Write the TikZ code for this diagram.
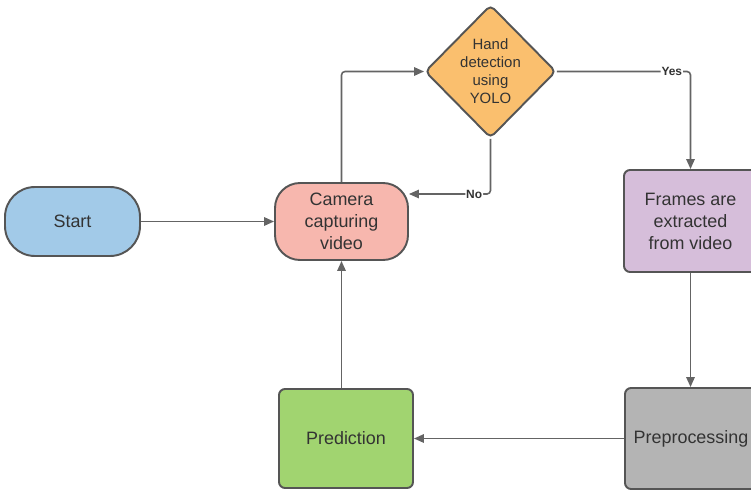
\documentclass[tikz,border=0pt]{standalone}
\usepackage{fontspec}
\setmainfont{Liberation Sans}
\usetikzlibrary{arrows.meta,shapes.geometric}

\definecolor{startblue}{RGB}{162,202,232}
\definecolor{campink}{RGB}{247,183,174}
\definecolor{yoloorange}{RGB}{250,191,110}
\definecolor{framelilac}{RGB}{214,190,218}
\definecolor{prepgray}{RGB}{180,180,180}
\definecolor{predgreen}{RGB}{161,212,112}
\definecolor{edgegray}{RGB}{85,85,85}
\definecolor{linegray}{RGB}{100,100,100}
\definecolor{textgray}{RGB}{51,51,51}

\begin{document}
\begin{tikzpicture}[
  box/.style={draw=edgegray, line width=1.1pt, align=center, text=textgray,
              font=\fontsize{10.2}{12.5}\selectfont, inner sep=0pt},
  pill/.style={box, rounded corners=0.5cm},
  block/.style={box, rounded corners=0.12cm},
  test/.style={box, diamond, rounded corners=0.1cm, font=\fontsize{8.5}{10.3}\selectfont},
  flow/.style={draw=linegray, line width=0.9pt, rounded corners=2pt,
               -{Triangle[length=2mm,width=1.7mm]}},
  tag/.style={fill=white, inner sep=0.5pt, text=textgray,
              font=\fontsize{6.8}{8}\selectfont\bfseries},
]
  \useasboundingbox (0,0) rectangle (15.02,9.78);
  % start and capture
  \node[pill, fill=startblue, rounded corners=0.6cm, minimum width=2.7cm, minimum height=1.38cm]
    (start) at (1.45,5.35) {Start};
  \node[pill, fill=campink, minimum width=2.66cm, minimum height=1.54cm]
    (cam) at (6.83,5.35) {Camera\\capturing\\video};
  % decision
  \node[test, fill=yoloorange, minimum width=2.62cm, minimum height=2.66cm]
    (yolo) at (9.81,8.35) {Hand\\detection\\using\\YOLO};
  % processing chain
  \node[block, fill=framelilac, minimum width=2.66cm, minimum height=2.04cm]
    (frames) at (13.81,5.36) {Frames are\\extracted\\from video};
  \node[block, fill=prepgray, minimum width=2.64cm, minimum height=2.02cm]
    (prep) at (13.82,1.01) {Preprocessing};
  \node[block, fill=predgreen, minimum width=2.68cm, minimum height=1.98cm]
    (pred) at (6.92,1.01) {Prediction};

  % connectors
  \draw[flow] (start) -- (cam);
  \draw[flow] (cam.north) |- (yolo.west);
  \draw[flow] (yolo.east) -| node[tag, pos=0.43] {Yes} (frames.north);
  \draw[flow] (yolo.south) |- node[tag, pos=0.6] {No} ([yshift=0.55cm]cam.east);
  \draw[flow] (frames.south) -- (frames.south |- prep.north);
  \draw[flow] (prep.west) -- (pred.east);
  \draw[flow] (pred.north -| cam.south) -- (cam.south);
\end{tikzpicture}
\end{document}
